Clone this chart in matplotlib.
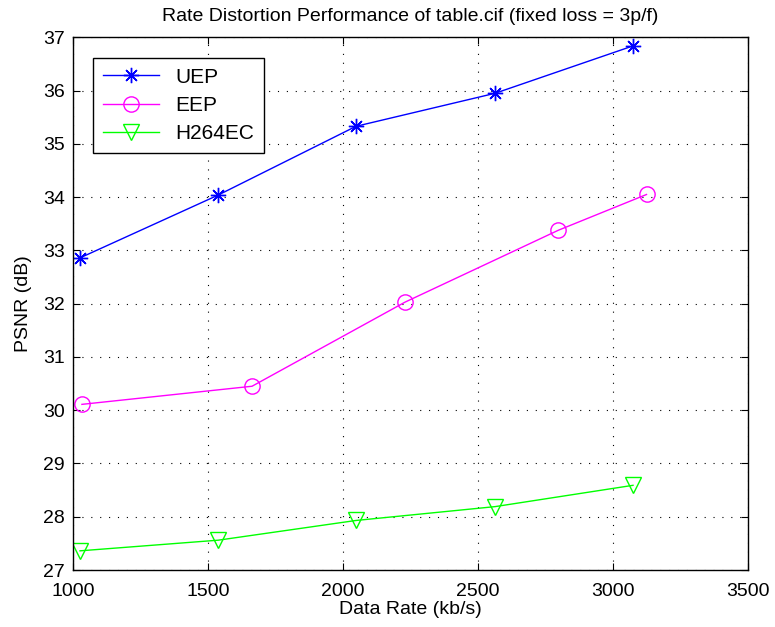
import numpy as np
import matplotlib
matplotlib.use('Agg')
from matplotlib import pyplot as plt

#  data
uep_rate = [1026, 1538, 2048, 2563, 3074]
uep_psnr = [32.86, 34.04, 35.33, 35.95, 36.84]
eep_rate = [1033, 1663, 2230, 2798, 3124]
eep_psnr = [30.11, 30.45, 32.03, 33.38, 34.05]
h264_rate = [1026, 1538, 2048, 2563, 3074]
h264_psnr = [27.36, 27.56, 27.93, 28.19, 28.59]

x_ticks = [1000, 1500, 2000, 2500, 3000, 3500]
y_ticks = [27, 28, 29, 30, 31, 32, 33, 34, 35, 36, 37]

plt.rcParams['font.family'] = ['Liberation Sans', 'DejaVu Sans']
plt.rcParams['font.size'] = 14

fig = plt.figure(figsize=(7.75, 6.27), dpi=100)
ax = fig.add_axes([0.0942, 0.0909, 0.8710, 0.8495])

ax.plot(uep_rate, uep_psnr, color=(0, 0, 1), lw=1.0, marker=(8, 2, 0),
        ms=11, mew=1.0, label='UEP')
ax.plot(eep_rate, eep_psnr, color=(1, 0, 1), lw=1.0, marker='o', ms=11,
        mfc='none', mew=1.0, label='EEP')
ax.plot(h264_rate, h264_psnr, color=(0, 1, 0), lw=1.0, marker='v', ms=11,
        mfc='none', mew=1.0, label='H264EC')

ax.set_xlim(1000, 3500)
ax.set_ylim(27, 37)
ax.set_xticks(x_ticks)
ax.set_yticks(y_ticks)
ax.grid(True, color='black', ls=(0, (1, 7)), lw=0.8)
ax.tick_params(direction='in', length=5, top=True, right=True, width=0.8)
ax.tick_params(axis='x', pad=9)
ax.tick_params(axis='y', pad=6)
for s in ax.spines.values():
    s.set_linewidth(1.0)

ax.set_xlabel('Data Rate (kb/s)', labelpad=1)
ax.set_ylabel('PSNR (dB)', labelpad=8)
ax.set_title('Rate Distortion Performance of table.cif (fixed loss = 3p/f)',
             fontsize=14, pad=12)

leg = ax.legend(loc='upper left', bbox_to_anchor=(0.030, 0.961), borderaxespad=0,
                fancybox=False, edgecolor='black', framealpha=1, handlelength=2.7,
                borderpad=0.45, labelspacing=0.45, fontsize=15)
leg.get_frame().set_linewidth(1.0)

fig.savefig('out.png', dpi=100)
